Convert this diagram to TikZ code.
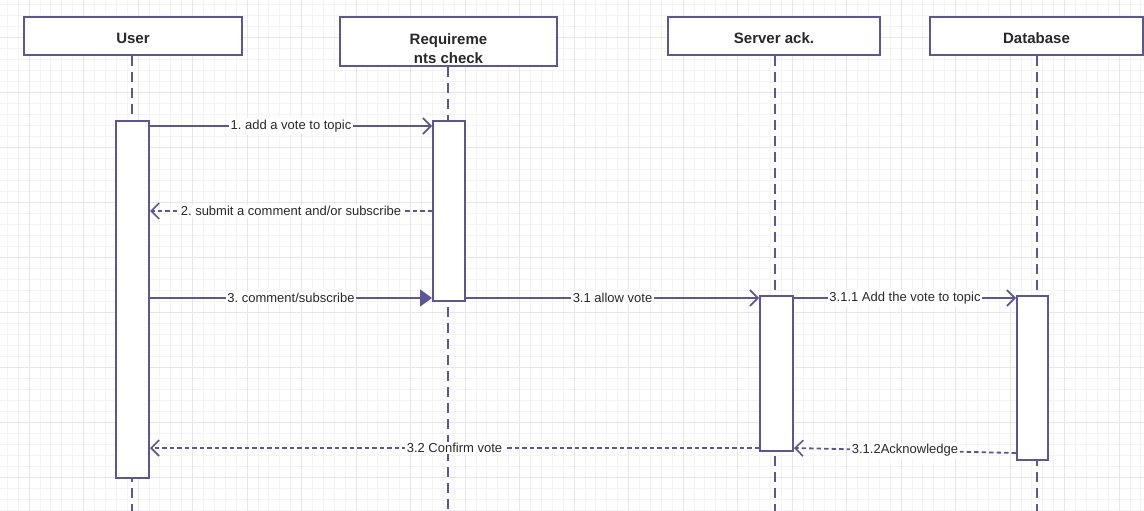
\documentclass[tikz,border=0pt]{standalone}
\usepackage{fontspec}
\setmainfont{Liberation Sans}
\usetikzlibrary{arrows.meta,calc}
\definecolor{ln}{RGB}{92,86,152}
\definecolor{gmin}{RGB}{244,244,244}
\definecolor{gmaj}{RGB}{231,231,231}
\definecolor{txt}{RGB}{40,40,40}
\tikzset{
  head/.style={draw=ln, line width=2pt, fill=white, rectangle, inner sep=0pt, font=\fontsize{15}{19}\selectfont\bfseries, text=txt},
  headtxt/.style={inner sep=0pt, align=center, font=\fontsize{15}{19}\selectfont\bfseries, text=txt},
  act/.style={draw=ln, line width=2pt, fill=white, rectangle, inner sep=0pt},
  life/.style={draw=ln, line width=2pt, dash pattern=on 10pt off 6pt},
  msg/.style={draw=ln, line width=1.8pt, -{Straight Barb[length=8pt, width=16pt, line width=1.6pt]}},
  ret/.style={msg, dash pattern=on 4.5pt off 3pt},
  fmsg/.style={draw=ln, line width=1.8pt, -{Triangle[length=12pt, width=17pt]}},
  lbl/.style={fill=white, inner sep=1.5pt, text=txt, font=\fontsize{13}{15}\selectfont}
}
\begin{document}
\frenchspacing
\begin{tikzpicture}[x=1pt,y=-1pt]
\useasboundingbox (0,0) rectangle (1144,511);
\fill[white] (0,0) rectangle (1144,511);
% grid
\foreach \i in {0,...,104} \draw[gmin, line width=0.7pt] ({7.2+10.9*\i},0) -- ({7.2+10.9*\i},511);
\foreach \i in {0,...,46} \draw[gmin, line width=0.7pt] (0,{4+11*\i}) -- (1144,{4+11*\i});
\foreach \i in {0,...,20} \draw[gmaj, line width=0.9pt] ({29+54.5*\i},0) -- ({29+54.5*\i},511);
\foreach \i in {0,...,8} \draw[gmaj, line width=0.9pt] (0,{37+55*\i}) -- (1144,{37+55*\i});

% header boxes
\node[head, minimum width=218pt, minimum height=38pt] (user) at (133,36) {};
\node[headtxt] (usert) at (133,38) {User};
\node[head, minimum width=217pt, minimum height=49pt] (req) at (448.5,41.5) {};
\node[headtxt] (reqt) at (448.5,49) {Requireme\\nts check};
\node[head, minimum width=212pt, minimum height=38pt] (srv) at (774,36) {};
\node[headtxt] (srvt) at (774,38) {Server ack.};
\node[head, minimum width=213pt, minimum height=38pt] (db) at (1036.5,36) {};
\node[headtxt] (dbt) at (1036.5,38) {Database};

% bottom coordinates for lifelines
\coordinate (ub) at (132,511);
\coordinate (rb) at (448,511);
\coordinate (sb) at (775,511);
\coordinate (dbb) at (1037,511);
\draw[life] (user.south -| ub) -- (ub);
\draw[life] (req.south -| rb) -- (rb);
\draw[life] (srv.south -| sb) -- (sb);
\draw[life] (db.south -| dbb) -- (dbb);

% activations
\node[act, minimum width=33pt, minimum height=357pt] (uact) at (132.5,299.5) {};
\node[act, minimum width=32pt, minimum height=180pt] (ract) at (449,211) {};
\node[act, minimum width=33pt, minimum height=155pt] (sact) at (776.5,373.5) {};
\node[act, minimum width=31pt, minimum height=164pt] (dact) at (1032.5,378) {};

% message levels
\coordinate (y1) at (0,126);
\coordinate (y2) at (0,211);
\coordinate (y3) at (0,298);
\coordinate (y32) at (0,448);
\coordinate (y312) at (0,453);

\draw[msg] (uact.east |- y1) -- node[lbl] {1. add a vote to topic} (ract.west |- y1);
\draw[ret] (ract.west |- y2) -- node[lbl] {2. submit a comment and/or subscribe} (uact.east |- y2);
\draw[fmsg] (uact.east |- y3) -- node[lbl] {3. comment/subscribe} (ract.west |- y3);
\draw[msg] (ract.east |- y3) -- node[lbl] {3.1 allow vote} (sact.west |- y3);
\draw[msg] (sact.east |- y3) -- node[lbl] {3.1.1 Add the vote to topic} (dact.west |- y3);
\draw[ret] (sact.west |- y32) -- node[lbl] {3.2 Confirm vote} (uact.east |- y32);
\draw[ret] (dact.west |- y312) -- node[lbl] {3.1.2Acknowledge} (sact.east |- y32);
\end{tikzpicture}
\end{document}
